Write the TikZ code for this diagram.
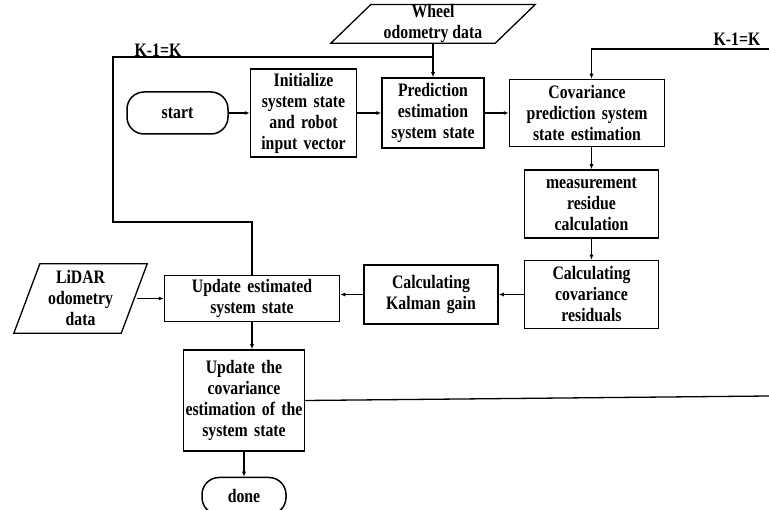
\documentclass[tikz,border=0pt]{standalone}
\usepackage{fontspec}
\setmainfont{Liberation Serif}[FakeStretch=0.83]
\usetikzlibrary{positioning,arrows.meta}

\begin{document}
\begin{tikzpicture}[
    x=1pt, y=1pt,
    every node/.style={font=\fontsize{19}{21}\selectfont\bfseries},
    box/.style={
        draw,
        line width=1.5pt,
        align=center,
        inner sep=0pt
    },
    term/.style={
        draw,
        line width=1.5pt,
        rounded corners=17pt,
        align=center,
        inner sep=0pt
    },
    databox/.style={
        align=center,
        inner sep=0pt
    },
    arrow/.style={-{Latex[length=5pt,width=4pt]}, line width=1.3pt},
    line/.style={line width=1.3pt}
]
\useasboundingbox (0,0) rectangle (769,-510);

% Row 1
\node[term, minimum width=101pt, minimum height=42pt] (start) at (177.5,-113) {start};
\node[box, right=21pt of start, minimum width=106pt, minimum height=88pt, text width=104pt] (init) {
    Initialize\\system state\\and robot\\input vector
};
\node[box, right=24pt of init, minimum width=102pt, minimum height=70pt, text width=100pt] (pred) {
    Prediction\\estimation\\system state
};
\node[box, right=24pt of pred, minimum width=155pt, minimum height=67pt, text width=152pt] (covp) {
    Covariance\\prediction system\\state estimation
};
\node[databox, above=34pt of pred, minimum width=164pt, minimum height=38pt] (wheel) {
    Wheel\\odometry data
};

% Row 2
\node[box, below=22pt of covp, xshift=4.5pt, minimum width=134pt, minimum height=68pt, text width=132pt] (meas) {
    measurement\\residue\\calculation
};

% Row 3
\node[box, below=21pt of meas, minimum width=134pt, minimum height=68pt, text width=132pt] (covres) {
    Calculating\\covariance\\residuals
};
\node[box, left=25pt of covres, minimum width=134pt, minimum height=59pt, text width=132pt] (kal) {
    Calculating\\Kalman gain
};
\node[box, left=23pt of kal, yshift=-4pt, minimum width=175pt, minimum height=46pt, text width=172pt] (upd) {
    Update estimated\\system state
};
\node[databox, left=29.5pt of upd, minimum width=107pt, minimum height=69pt] (lidar) {
    LiDAR\\odometry\\data
};

% Row 4
\node[box, below=27pt of upd, xshift=-8pt, minimum width=121pt, minimum height=101pt, text width=121pt] (updc) {
    Update the\\covariance\\estimation of the\\system state
};
\node[term, below=25pt of updc, minimum width=84pt, minimum height=37pt] (done) {done};

% Data shapes
\draw[line] ([xshift=-20pt]wheel.south west) -- ([xshift=20pt]wheel.north west)
    -- ([xshift=20pt]wheel.north east) -- ([xshift=-20pt]wheel.south east) -- cycle;
\draw[line] ([xshift=-13pt]lidar.south west) -- ([xshift=13pt]lidar.north west)
    -- ([xshift=13pt]lidar.north east) -- ([xshift=-13pt]lidar.south east) -- cycle;

% Loop points
\coordinate (loopL) at (113,-222);
\coordinate (kjoin) at (wheel.south |- 0,-57);
\coordinate (kin) at (769,-49);
\coordinate (kout) at (769,-396);

\node (klabL) at (158,-50) {K-1=K};
\node (klabR) at (737,-39) {K-1=K};

% Arrows
\draw[arrow] (start) -- (init);
\draw[arrow] (init) -- (pred);
\draw[arrow] (pred) -- (covp);
\draw[arrow] (wheel.south) -- (pred.north);
\draw[arrow] (covp.south -| meas.north) -- (meas.north);
\draw[arrow] (meas) -- (covres);
\draw[arrow] (covres) -- (kal);
\draw[arrow] (kal.west) -- (kal.west -| upd.east);
\draw[arrow] ([xshift=3pt]lidar.east) -- (upd);
\draw[arrow] (upd.south) -- (upd.south |- updc.north);
\draw[arrow] (updc.south -| done.north) -- (done.north);

\draw[line] (upd.north) |- (loopL) |- (kjoin);
\draw[arrow] (kin) -| (meas.north |- covp.north);
\draw[line] (updc.east) -- (kout);

\end{tikzpicture}
\end{document}
